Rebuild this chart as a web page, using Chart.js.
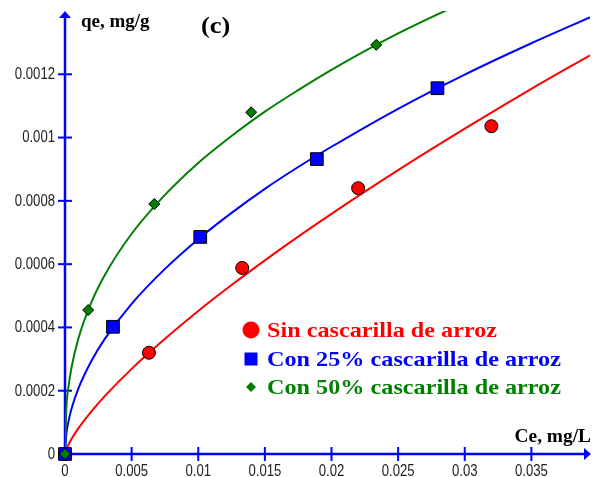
<!DOCTYPE html>
<html><head><meta charset="utf-8">
<script src="https://cdn.jsdelivr.net/npm/chart.js@4.4.0/dist/chart.umd.min.js"></script>
<style>html,body{margin:0;padding:0;background:#fff}#wrap{width:592px;height:477px}</style>
</head><body><div id="wrap"><canvas id="c" width="592" height="477"></canvas></div>
<script>
// ---- data ----
const seriesNames = ["Sin cascarilla de arroz", "Con 25% cascarilla de arroz", "Con 50% cascarilla de arroz"];
const sinX = [0, 0.0063, 0.0133, 0.022, 0.032];
const sinY = [0, 0.00032, 0.000588, 0.00084, 0.001036];
const c25X = [0, 0.0036, 0.01015, 0.0189, 0.02795];
const c25Y = [0, 0.000402, 0.000686, 0.000932, 0.001156];
const c50X = [0, 0.00174, 0.0067, 0.01397, 0.02336];
const c50Y = [0, 0.000455, 0.00079, 0.00108, 0.001293];
// fitted curves
const curveX = [0, 0.0001, 0.00025, 0.0005, 0.001, 0.002, 0.003, 0.005, 0.0075, 0.01, 0.0125, 0.015, 0.0175, 0.02, 0.025, 0.03, 0.035, 0.0394];
const sinCurveY = [0, 0.0000144, 0.0000286, 0.000048, 0.0000808, 0.0001355, 0.0001837, 0.000269, 0.000364, 0.000452, 0.000534, 0.000612, 0.000687, 0.000759, 0.000897, 0.001028, 0.001154, 0.00126];
const c25CurveY = [0, 0.0000628, 0.0001008, 0.0001443, 0.0002066, 0.0002955, 0.0003645, 0.0004746, 0.000585, 0.000679, 0.000762, 0.000838, 0.000907, 0.000971, 0.001091, 0.001199, 0.001298, 0.00138];
const c50CurveY = [0, 0.0001444, 0.0002087, 0.0002756, 0.0003642, 0.0004813, 0.0005666, 0.000696, 0.000819, 0.00092, 0.001005, 0.001082, 0.00115, 0.001214, 0.001329, 0.001429, 0.001521, 0.001595];
const xTicks = [0, 0.005, 0.01, 0.015, 0.02, 0.025, 0.03, 0.035];
const xTickLabels = ["0", "0.005", "0.01", "0.015", "0.02", "0.025", "0.03", "0.035"];
const yTicks = [0, 0.0002, 0.0004, 0.0006, 0.0008, 0.001, 0.0012];
const yTickLabels = ["0", "0.0002", "0.0004", "0.0006", "0.0008", "0.001", "0.0012"];
const xTitle = "Ce, mg/L";
const yTitle = "qe, mg/g";
const panelLabel = "(c)";

const RED = "#ff0000", BLUE = "#0000ff", GREEN = "#008000";
const pts = (xs, ys) => xs.map((x, i) => ({x: x, y: ys[i]}));

function scaledText(ctx, text, x, y, sx, align) {
  ctx.save();
  ctx.translate(x, y);
  ctx.scale(sx, 1);
  ctx.textAlign = align;
  ctx.fillText(text, 0, 0);
  ctx.restore();
}

const axesPlugin = {
  id: 'axes',
  beforeDatasetsDraw(chart) {
    const ctx = chart.ctx, xs = chart.scales.x, ys = chart.scales.y;
    const x0 = xs.getPixelForValue(0), y0 = ys.getPixelForValue(0);
    const top = chart.chartArea.top, right = chart.chartArea.right;
    ctx.save();
    ctx.strokeStyle = BLUE; ctx.fillStyle = BLUE; ctx.lineWidth = 2.5;
    ctx.beginPath(); ctx.moveTo(x0, y0); ctx.lineTo(x0, top + 4); ctx.stroke();
    ctx.beginPath(); ctx.moveTo(x0, y0); ctx.lineTo(right - 2, y0); ctx.stroke();
    ctx.lineWidth = 2;
    yTicks.forEach(v => { if (v === 0) return; const y = ys.getPixelForValue(v);
      ctx.beginPath(); ctx.moveTo(x0 - 7, y); ctx.lineTo(x0 + 7, y); ctx.stroke(); });
    xTicks.forEach(v => { if (v === 0) return; const x = xs.getPixelForValue(v);
      ctx.beginPath(); ctx.moveTo(x, y0 - 7); ctx.lineTo(x, y0 + 7); ctx.stroke(); });
    // arrows
    ctx.beginPath(); ctx.moveTo(x0, top); ctx.lineTo(x0 - 6, top + 7); ctx.lineTo(x0 + 6, top + 7); ctx.closePath(); ctx.fill();
    ctx.beginPath(); ctx.moveTo(right + 1, y0); ctx.lineTo(right - 6, y0 - 6); ctx.lineTo(right - 6, y0 + 6); ctx.closePath(); ctx.fill();
    // tick labels
    ctx.fillStyle = '#222';
    ctx.font = "16px 'Liberation Sans',Arial,sans-serif";
    ctx.textBaseline = 'middle';
    yTicks.forEach((v, i) => scaledText(ctx, yTickLabels[i], x0 - 10, ys.getPixelForValue(v) + 0.5, 0.82, 'right'));
    ctx.textBaseline = 'alphabetic';
    xTicks.forEach((v, i) => scaledText(ctx, xTickLabels[i], xs.getPixelForValue(v), 476, 0.82, 'center'));
    ctx.restore();
  },
  afterDraw(chart) {
    const ctx = chart.ctx;
    ctx.save();
    ctx.fillStyle = '#000';
    ctx.textBaseline = 'alphabetic';
    ctx.font = "bold 19px 'Liberation Serif','Times New Roman',serif";
    scaledText(ctx, yTitle, 81, 27, 1, 'left');
    scaledText(ctx, xTitle, 591, 442, 1.02, 'right');
    ctx.font = "bold 24px 'Liberation Serif','Times New Roman',serif";
    scaledText(ctx, panelLabel, 201, 33, 1.1, 'left');
    // legend
    const colors = [RED, BLUE, GREEN];
    const rows = [330, 359, 387];
    ctx.font = "bold 22px 'Liberation Serif','Times New Roman',serif";
    ctx.textBaseline = 'middle';
    seriesNames.forEach((name, i) => {
      const cy = rows[i], cx = 251;
      ctx.fillStyle = colors[i];
      ctx.beginPath();
      if (i === 0) ctx.arc(cx, cy, 8.5, 0, Math.PI * 2);
      else if (i === 1) ctx.rect(cx - 6.5, cy - 6.5, 13, 13);
      else { ctx.moveTo(cx, cy - 5); ctx.lineTo(cx + 5, cy); ctx.lineTo(cx, cy + 5); ctx.lineTo(cx - 5, cy); ctx.closePath(); }
      ctx.fill();
      scaledText(ctx, name, 267, cy + 1, 1.1, 'left');
    });
    ctx.restore();
  }
};

new Chart(document.getElementById('c'), {
  type: 'scatter',
  data: {
    datasets: [
      {data: pts(c50X, c50Y), pointStyle: 'rectRot', pointRadius: 5.5, backgroundColor: GREEN, borderColor: '#000', borderWidth: 1, order: 0, clip: false},
      {data: pts(c25X, c25Y), pointStyle: 'rect', pointRadius: 9, backgroundColor: BLUE, borderColor: '#000', borderWidth: 1, order: 1, clip: false},
      {data: pts(sinX, sinY), pointStyle: 'circle', pointRadius: 6.5, backgroundColor: RED, borderColor: '#000', borderWidth: 1, order: 2, clip: false},
      {data: pts(curveX, c50CurveY), showLine: true, pointRadius: 0, borderColor: GREEN, borderWidth: 2, cubicInterpolationMode: 'monotone', order: 3},
      {data: pts(curveX, c25CurveY), showLine: true, pointRadius: 0, borderColor: BLUE, borderWidth: 2, cubicInterpolationMode: 'monotone', order: 4},
      {data: pts(curveX, sinCurveY), showLine: true, pointRadius: 0, borderColor: RED, borderWidth: 2, cubicInterpolationMode: 'monotone', order: 5}
    ]
  },
  options: {
    responsive: false, animation: false,
    layout: {autoPadding: false, padding: {left: 0, right: 2, top: 11, bottom: 0}},
    plugins: {legend: {display: false}, tooltip: {enabled: false}},
    scales: {
      x: {type: 'linear', min: 0, max: 0.0394,
        afterFit(s) { s.height = 23; s.paddingLeft = 0; s.paddingRight = 0; },
        afterBuildTicks(s) { s.ticks = xTicks.map(v => ({value: v})); },
        grid: {display: false, drawTicks: false}, border: {display: false},
        ticks: {display: false}},
      y: {type: 'linear', min: 0, max: 0.0014,
        afterFit(s) { s.width = 65; s.paddingTop = 0; s.paddingBottom = 0; },
        afterBuildTicks(s) { s.ticks = yTicks.map(v => ({value: v})); },
        grid: {display: false, drawTicks: false}, border: {display: false},
        ticks: {display: false}}
    }
  },
  plugins: [axesPlugin]
});
</script></body></html>
